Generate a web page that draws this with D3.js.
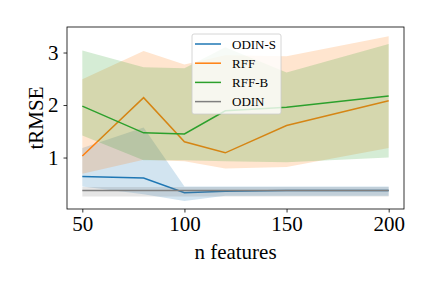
<!DOCTYPE html>
<html>
<head>
<meta charset="utf-8">
<script src="https://cdn.jsdelivr.net/npm/d3@7"></script>
<style>
  body { margin: 0; background: #fff; }
  svg { display: block; font-family: "Liberation Serif", "DejaVu Serif", serif; }
</style>
</head>
<body>
<svg id="chart" width="432" height="288"></svg>
<script>
// Data
const features = [50, 80, 100, 120, 150, 200];

const odinSMean  = [0.64, 0.61, 0.33, 0.36, 0.37, 0.37];
const odinSLow   = [0.45, 0.30, 0.17, 0.27, 0.27, 0.27];
const odinSHigh  = [1.18, 1.57, 0.45, 0.45, 0.45, 0.45];

const rffMean    = [1.03, 2.14, 1.30, 1.09, 1.61, 2.08];
const rffLow     = [0.69, 0.96, 0.93, 0.79, 0.82, 1.18];
const rffHigh    = [2.49, 3.03, 2.77, 2.95, 2.93, 3.31];

const rffBMean   = [1.98, 1.47, 1.45, 1.89, 1.96, 2.17];
const rffBLow    = [1.42, 0.95, 0.95, 0.93, 0.91, 1.00];
const rffBHigh   = [3.04, 2.72, 2.70, 3.10, 2.62, 3.16];

const odinMean   = [0.37, 0.37, 0.37, 0.37, 0.37, 0.37];
const odinLow    = [0.26, 0.26, 0.26, 0.26, 0.26, 0.26];
const odinHigh   = [0.44, 0.44, 0.44, 0.44, 0.44, 0.44];

const seriesNames = ["ODIN-S", "RFF", "RFF-B", "ODIN"];
const xTicks = [50, 100, 150, 200];
const yTicks = [1, 2, 3];

// Build series table
const colors = ["#1f77b4", "#ff7f0e", "#2ca02c", "#7f7f7f"];
const means = [odinSMean, rffMean, rffBMean, odinMean];
const lows = [odinSLow, rffLow, rffBLow, odinLow];
const highs = [odinSHigh, rffHigh, rffBHigh, odinHigh];
const series = seriesNames.map((name, i) => ({
  name,
  color: colors[i],
  points: features.map((f, j) => ({ x: f, y: means[i][j], lo: lows[i][j], hi: highs[i][j] }))
}));

// Set up dimensions
const margin = { top: 27, right: 28, bottom: 79, left: 67 };
const width = 432 - margin.left - margin.right;
const height = 288 - margin.top - margin.bottom;

const svg = d3.select("#chart");
const g = svg.append("g")
    .attr("transform", "translate(" + margin.left + "," + margin.top + ")");

// Scales
const x = d3.scaleLinear().domain([42.5, 207.5]).range([0, width]);
const y = d3.scaleLinear().domain([0.02, 3.486]).range([height, 0]);

const area = d3.area()
    .x(d => x(d.x))
    .y0(d => y(d.lo))
    .y1(d => y(d.hi));

const line = d3.line()
    .x(d => x(d.x))
    .y(d => y(d.y));

// Bands and lines
series.forEach(s => {
  g.append("path")
      .datum(s.points)
      .attr("d", area)
      .attr("fill", s.color)
      .attr("fill-opacity", 0.2);
  g.append("path")
      .datum(s.points)
      .attr("d", line)
      .attr("fill", "none")
      .attr("stroke", s.color)
      .attr("stroke-width", 1.5);
});

// Axes
const xAxis = g.append("g")
    .attr("transform", "translate(0," + height + ")")
    .call(d3.axisBottom(x).tickValues(xTicks).tickSize(3.5).tickPadding(4));
const yAxis = g.append("g")
    .call(d3.axisLeft(y).tickValues(yTicks).tickFormat(d3.format("d")).tickSize(3.5).tickPadding(5));

[xAxis, yAxis].forEach(a => {
  a.select(".domain").remove();
  a.selectAll("line").attr("stroke", "#000").attr("stroke-width", 0.8);
  a.selectAll("text").attr("font-size", 21).attr("fill", "#000")
      .attr("font-family", "Liberation Serif, serif");
});

// Frame
g.append("rect")
    .attr("width", width)
    .attr("height", height)
    .attr("fill", "none")
    .attr("stroke", "#000")
    .attr("stroke-width", 0.8);

// Axis labels
svg.append("text")
    .attr("x", margin.left + width / 2)
    .attr("y", 259)
    .attr("text-anchor", "middle")
    .attr("font-size", 21)
    .text("n features");

svg.append("text")
    .attr("transform", "translate(43," + (margin.top + height / 2) + ") rotate(-90)")
    .attr("text-anchor", "middle")
    .attr("font-size", 21)
    .text("tRMSE");

// Legend
const legend = svg.append("g").attr("transform", "translate(192,34)");
legend.append("rect")
    .attr("width", 89)
    .attr("height", 80)
    .attr("rx", 2)
    .attr("fill", "#fff")
    .attr("fill-opacity", 0.8)
    .attr("stroke", "#ccc")
    .attr("stroke-width", 0.8);

series.forEach((s, i) => {
  const row = legend.append("g").attr("transform", "translate(0," + (10 + i * 19.2) + ")");
  row.append("line")
      .attr("x1", 3).attr("x2", 29)
      .attr("stroke", s.color)
      .attr("stroke-width", 1.5);
  row.append("text")
      .attr("x", 40)
      .attr("dy", "0.35em")
      .attr("font-size", 13)
      .text(s.name);
});
</script>
</body>
</html>
